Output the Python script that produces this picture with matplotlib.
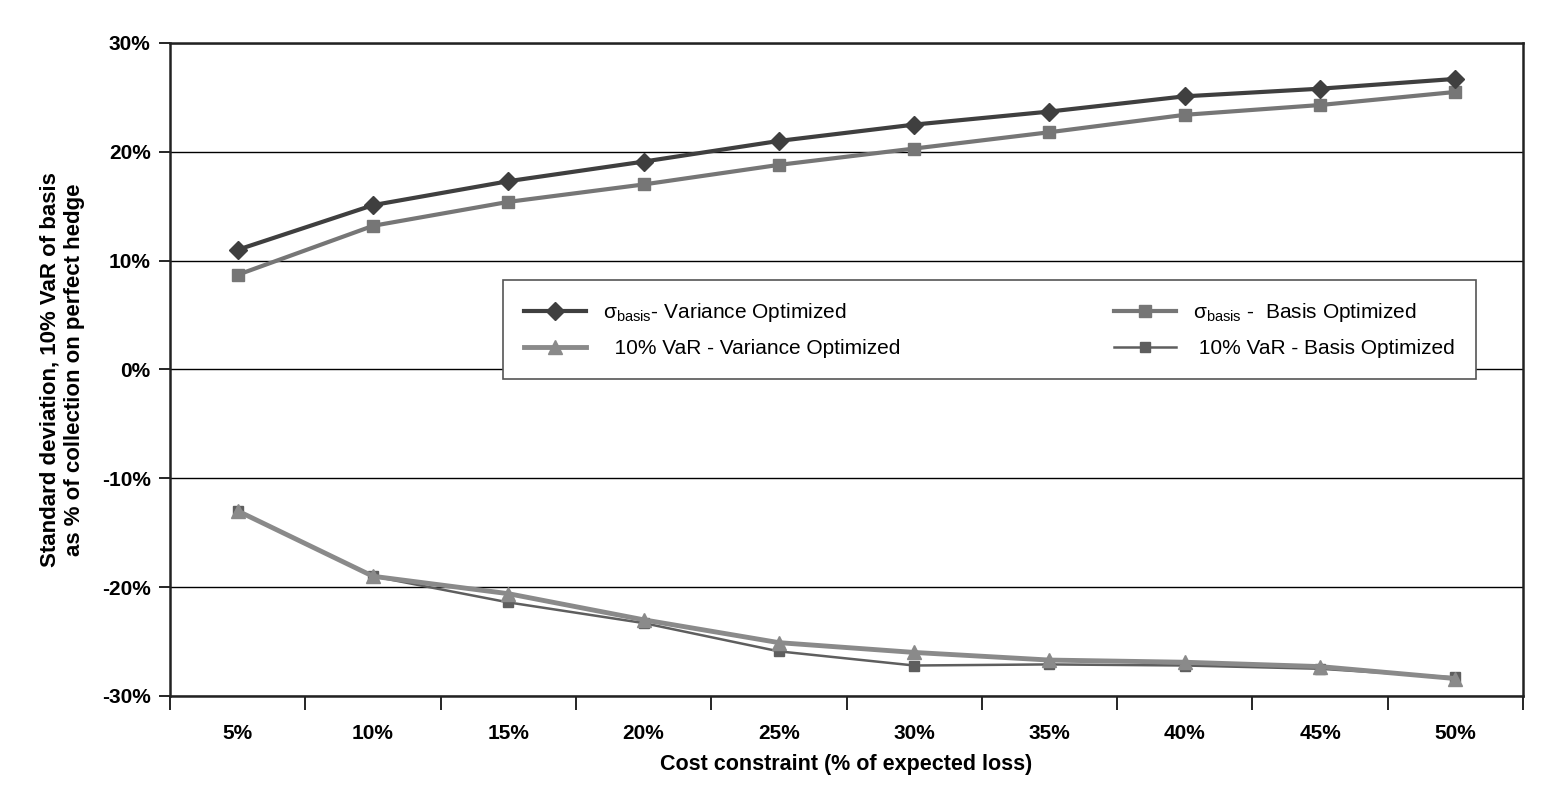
import numpy as np
import matplotlib
matplotlib.use("Agg")
import matplotlib.pyplot as plt
from matplotlib.ticker import FixedLocator, PercentFormatter

plt.rcParams['font.family'] = ['Liberation Sans', 'DejaVu Sans']
plt.rcParams['mathtext.fontset'] = 'custom'
plt.rcParams['mathtext.rm'] = 'Liberation Sans'
plt.rcParams['axes.unicode_minus'] = False

categories = ["5%", "10%", "15%", "20%", "25%", "30%", "35%", "40%", "45%", "50%"]

sigma_variance_opt = [11.0, 15.1, 17.3, 19.1, 21.0, 22.5, 23.7, 25.1, 25.8, 26.7]
sigma_basis_opt = [8.7, 13.2, 15.4, 17.0, 18.8, 20.3, 21.8, 23.4, 24.3, 25.5]
var_variance_opt = [-13.0, -19.0, -20.6, -23.0, -25.1, -26.0, -26.7, -26.9, -27.3, -28.4]
var_basis_opt = [-13.0, -19.0, -21.4, -23.3, -25.9, -27.2, -27.1, -27.2, -27.5, -28.3]

fig = plt.figure(figsize=(15.56, 8.02), dpi=100)
ax = fig.add_axes([0.1093, 0.1322, 0.8695, 0.8142])

x = np.arange(len(categories))

ax.plot(x, sigma_variance_opt, color="#3f3f3f", lw=3, marker="D", ms=9,
        label="σ$_{\\mathrm{basis}}$- Variance Optimized", zorder=5)
ax.plot(x, var_variance_opt, color="#8a8a8a", lw=3.5, marker="^", ms=10,
        label="  10% VaR - Variance Optimized", zorder=4)
ax.plot(x, sigma_basis_opt, color="#767676", lw=3, marker="s", ms=8,
        label="σ$_{\\mathrm{basis}}$ -  Basis Optimized", zorder=4)
ax.plot(x, var_basis_opt, color="#5e5e5e", lw=1.8, marker="s", ms=7,
        label=" 10% VaR - Basis Optimized", zorder=3)

ax.set_xlim(-0.5, len(categories) - 0.5)
ax.set_ylim(-30, 30)
ax.set_xticks(x)
ax.set_xticklabels(categories, fontsize=15, fontweight="bold")
ax.xaxis.set_minor_locator(FixedLocator(np.arange(-0.5, len(categories), 1)))
ax.tick_params(axis="x", which="major", length=0, pad=20)
ax.tick_params(axis="x", which="minor", length=10, width=1.2, direction="out")
ax.set_yticks(np.arange(-30, 31, 10))
ax.yaxis.set_major_formatter(PercentFormatter(decimals=0))
ax.tick_params(axis="y", length=8, width=1.2, direction="out", labelsize=15, pad=6)
for lab in ax.get_yticklabels():
    lab.set_fontweight("bold")

ax.grid(axis="y", color="black", lw=1)
ax.set_axisbelow(True)
for s in ax.spines.values():
    s.set_linewidth(1.8)
    s.set_color("#222222")

ax.set_xlabel("Cost constraint (% of expected loss)", fontsize=15.5, fontweight="bold", labelpad=8)
ax.set_ylabel("Standard deviation, 10% VaR of basis\nas % of collection on perfect hedge",
              fontsize=16, fontweight="bold", labelpad=12)

leg = ax.legend(ncol=2, loc="upper left", bbox_to_anchor=(0.246, 0.637, 0.719, 0.0),
                mode="expand", borderaxespad=0, fontsize=15, frameon=True, fancybox=False,
                edgecolor="#555555", framealpha=1, handlelength=3,
                borderpad=1.0, labelspacing=0.75, columnspacing=6)
leg.get_frame().set_linewidth(1.2)
leg.set_zorder(10)

fig.savefig("out.png", dpi=100, facecolor="white")
